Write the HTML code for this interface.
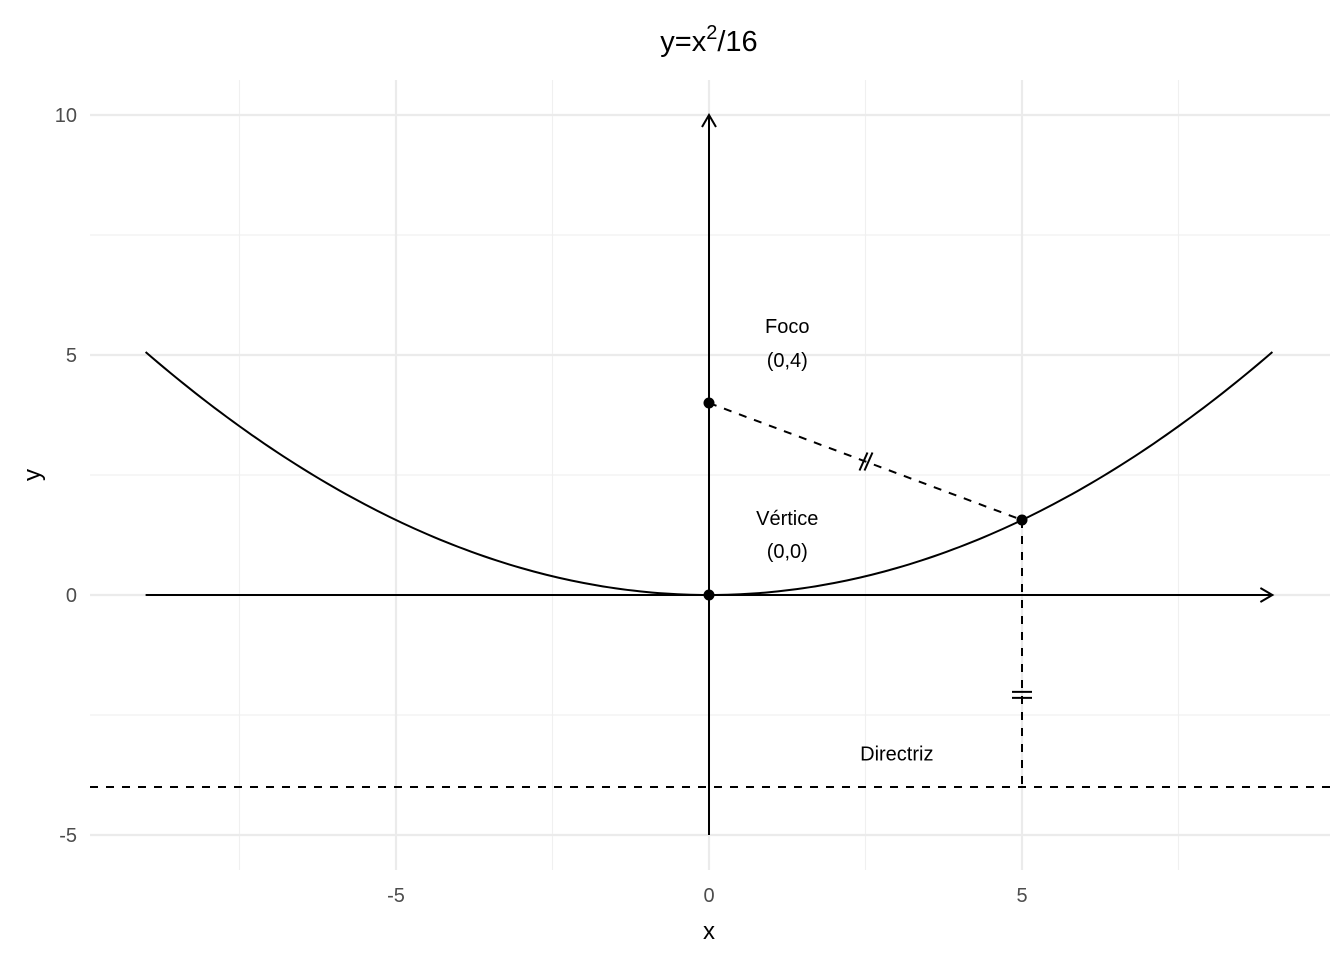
<!DOCTYPE html>
<html><head><meta charset="utf-8"><style>
body{margin:0;background:#fff}
text{font-family:"Liberation Sans",sans-serif}
</style></head><body>
<svg id="chart" width="1344" height="960" xmlns="http://www.w3.org/2000/svg">
<text x="709" y="51" font-size="29" text-anchor="middle">y=x<tspan dy="-12" font-size="20">2</tspan><tspan dy="12">/16</tspan></text>
<g id="grid"></g><g id="marks"></g>
<text x="709" y="939" font-size="24" text-anchor="middle">x</text>
<text x="40" y="475" font-size="24" text-anchor="middle" transform="rotate(-90 40 475)">y</text>
</svg>
<script>
const majorX=[-5,0,5], minorX=[-7.5,-2.5,2.5,7.5];
const majorY=[-5,0,5,10], minorY=[-2.5,2.5,7.5];
const xTickLabels=["-5","0","5"], yTickLabels=["-5","0","5","10"];
const pCoef=1/16, xMin=-9, xMax=9;
const focus=[0,4], vertex=[0,0], pointP=[5,25/16], directrixY=-4;
const labels=[["Foco",1.25,5.6],["(0,4)",1.25,4.9],["Vértice",1.25,1.6],["(0,0)",1.25,0.92],["Directriz",3.0,-3.3]];
const X=v=>709+v*62.6, Y=v=>595-v*48;
const NS="http://www.w3.org/2000/svg";
function mk(p,t,a){const e=document.createElementNS(NS,t);for(const k in a)e.setAttribute(k,a[k]);p.appendChild(e);return e;}
const g=document.getElementById('grid'), m=document.getElementById('marks');
minorX.forEach(v=>{const l=mk(g,'line',{x1:X(v),x2:X(v),y1:80,y2:870,stroke:'#f0f0f0','stroke-width':1.2});
});
minorY.forEach(v=>{const l=mk(g,'line',{x1:90,x2:1330,y1:Y(v),y2:Y(v),stroke:'#f0f0f0','stroke-width':1.2});
});
majorX.forEach((v,i)=>{const l=mk(g,'line',{x1:X(v),x2:X(v),y1:80,y2:870,stroke:'#ebebeb','stroke-width':2.2});

const t=mk(g,'text',{x:X(v),y:902,'font-size':20,fill:'#4d4d4d','text-anchor':'middle'});t.textContent=xTickLabels[i];
});
majorY.forEach((v,i)=>{const l=mk(g,'line',{x1:90,x2:1330,y1:Y(v),y2:Y(v),stroke:'#ebebeb','stroke-width':2.2});

const t=mk(g,'text',{x:77,y:Y(v)+7,'font-size':20,fill:'#4d4d4d','text-anchor':'end'});t.textContent=yTickLabels[i];
});
let d=mk(m,'line',{x1:90,x2:1330,y1:Y(directrixY),y2:Y(directrixY),stroke:'#000','stroke-width':2,'stroke-dasharray':'8,8'});

let ax=mk(m,'line',{x1:X(xMin),x2:X(xMax),y1:Y(0),y2:Y(0),stroke:'#000','stroke-width':2});

let ah=mk(m,'path',{d:`M${X(xMax)-12},${Y(0)-7}L${X(xMax)},${Y(0)}L${X(xMax)-12},${Y(0)+7}`,fill:'none',stroke:'#000','stroke-width':2});

let ay=mk(m,'line',{x1:X(0),x2:X(0),y1:Y(-5),y2:Y(10),stroke:'#000','stroke-width':2});

let ayh=mk(m,'path',{d:`M${X(0)-7},${Y(10)+12}L${X(0)},${Y(10)}L${X(0)+7},${Y(10)+12}`,fill:'none',stroke:'#000','stroke-width':2});

let pts=[];for(let i=0;i<=180;i++){const x=xMin+(xMax-xMin)*i/180;pts.push(X(x)+','+Y(pCoef*x*x));}
let pc=mk(m,'polyline',{points:pts.join(' '),fill:'none',stroke:'#000','stroke-width':2});

let s1=mk(m,'line',{x1:X(focus[0]),y1:Y(focus[1]),x2:X(pointP[0]),y2:Y(pointP[1]),stroke:'#000','stroke-width':2,'stroke-dasharray':'8,8'});

let s2=mk(m,'line',{x1:X(pointP[0]),y1:Y(pointP[1]),x2:X(pointP[0]),y2:Y(directrixY),stroke:'#000','stroke-width':2,'stroke-dasharray':'8,8'});

const mx=(X(focus[0])+X(pointP[0]))/2, my=(Y(focus[1])+Y(pointP[1]))/2;
let tk=mk(m,'path',{d:`M${mx-6},${my+9}L${mx+2},${my-9}M${mx-1},${my+9}L${mx+7},${my-9}`,stroke:'#000','stroke-width':2});

const ty=Y(-2.08);
let tk2=mk(m,'path',{d:`M${X(5)-10},${ty-3}L${X(5)+10},${ty-3}M${X(5)-10},${ty+3}L${X(5)+10},${ty+3}`,stroke:'#000','stroke-width':2});

[[focus,'focus-point'],[vertex,'vertex-point'],[pointP,'parabola-point']].forEach(([p,n])=>{
const c=mk(m,'circle',{cx:X(p[0]),cy:Y(p[1]),r:5.5,fill:'#000'});
});
labels.forEach(([t,x,y])=>{const e=mk(m,'text',{x:X(x),y:Y(y)+7,'font-size':20,'text-anchor':'middle'});e.textContent=t;
});
</script>
</body></html>
